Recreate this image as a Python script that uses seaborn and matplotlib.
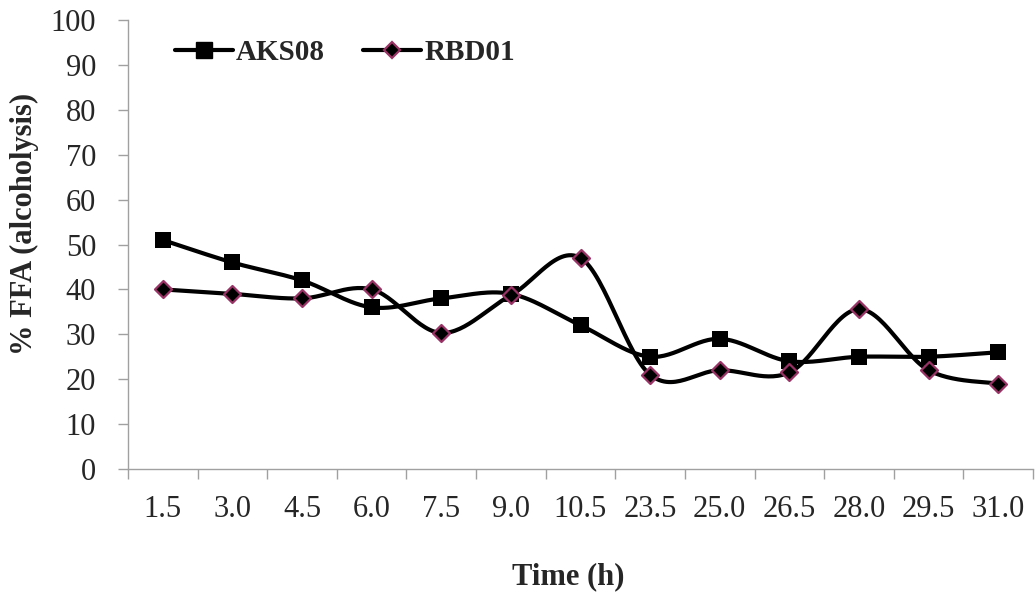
import numpy as np
import pandas as pd
import matplotlib
matplotlib.use("Agg")
import matplotlib.pyplot as plt
from matplotlib.lines import Line2D
import seaborn as sns

categories = ["1.5", "3.0", "4.5", "6.0", "7.5", "9.0", "10.5", "23.5", "25.0", "26.5", "28.0", "29.5", "31.0"]
aks08 = [51, 46, 42, 36, 38, 39, 32, 25, 29, 24, 25, 25, 26]
rbd01 = [40, 39, 38, 40, 30.3, 38.7, 47, 21, 22, 21.5, 35.6, 22, 19]
series_names = ["AKS08", "RBD01"]
y_ticks = list(range(0, 101, 10))


def smooth(xs, ys, n=30):
    xs = np.asarray(xs, float)
    ys = np.asarray(ys, float)
    P = np.column_stack([xs, ys])
    out = []
    for i in range(len(P) - 1):
        p0 = P[i - 1] if i > 0 else P[i]
        p1 = P[i]
        p2 = P[i + 1]
        p3 = P[i + 2] if i + 2 < len(P) else P[i + 1]
        c1 = p1 + (p2 - p0) / 6.0
        c2 = p2 - (p3 - p1) / 6.0
        t = np.linspace(0, 1, n, endpoint=(i == len(P) - 2))[:, None]
        b = ((1 - t) ** 3) * p1 + 3 * ((1 - t) ** 2) * t * c1 + 3 * (1 - t) * t ** 2 * c2 + t ** 3 * p2
        out.append(b)
    out = np.vstack(out)
    return out[:, 0], out[:, 1]


sns.set_theme(style="white")
plt.rcParams["font.family"] = ["Liberation Serif", "DejaVu Serif"]

fig = plt.figure(figsize=(10.35, 5.93), dpi=100)
ax = fig.add_axes([128 / 1035, 1 - 469 / 593, 905 / 1035, 449 / 593])

pos = np.arange(len(categories))
frames = []
for name, vals in zip(series_names, [aks08, rbd01]):
    sx, sy = smooth(pos, vals)
    frames.append(pd.DataFrame({"x": sx, "y": sy, "series": name}))
curve = pd.concat(frames, ignore_index=True)
pts = pd.concat([pd.DataFrame({"x": pos, "y": aks08, "series": "AKS08"}),
                 pd.DataFrame({"x": pos, "y": rbd01, "series": "RBD01"})], ignore_index=True)

sns.lineplot(data=curve, x="x", y="y", hue="series", palette={"AKS08": "black", "RBD01": "black"},
             linewidth=3, sort=False, estimator=None, legend=False, ax=ax)
sns.scatterplot(data=pts[pts.series == "AKS08"], x="x", y="y", marker="s", s=120, color="black",
                edgecolor="black", linewidth=0, legend=False, ax=ax, zorder=5)
sns.scatterplot(data=pts[pts.series == "RBD01"], x="x", y="y", marker="D", s=75, color="black",
                edgecolor="#993366", linewidth=1.6, legend=False, ax=ax, zorder=5)

ax.set_xlim(-0.5, len(categories) - 0.5)
ax.set_ylim(0, 100)
ax.set_yticks(y_ticks)
ax.set_yticklabels([str(v) for v in y_ticks], fontsize=22)
ax.set_xticks(np.arange(-0.5, len(categories), 1.0))
ax.set_xticklabels([])
ax.set_xticks(pos, minor=True)
ax.set_xticklabels(categories, minor=True, fontsize=22)
ax.tick_params(axis="x", which="minor", length=0, pad=19)
ax.tick_params(axis="x", which="major", direction="out", length=7, width=1, color="#a0a0a0", bottom=True)
ax.tick_params(axis="y", direction="out", length=7, width=1, color="#a0a0a0", left=True, pad=16)

for s in ["top", "right"]:
    ax.spines[s].set_visible(False)
for s in ["left", "bottom"]:
    ax.spines[s].set_color("#a0a0a0")
    ax.spines[s].set_linewidth(1)

ax.set_xlabel("Time (h)", fontsize=22, fontweight="bold")
ax.set_ylabel("% FFA (alcoholysis)", fontsize=22, fontweight="bold")
ax.xaxis.set_label_coords((568 - 128) / 905, (469 - 562) / 449)
ax.yaxis.set_label_coords((39 - 128) / 905, (469 - 224) / 449)

handles = [Line2D([], [], color="black", lw=3, marker="s", markersize=11, markerfacecolor="black", markeredgecolor="black"),
           Line2D([], [], color="black", lw=3, marker="D", markersize=8, markerfacecolor="black", markeredgecolor="#993366", markeredgewidth=1.6)]
ax.legend(handles, series_names, loc="center left", bbox_to_anchor=(175 / 1035, 1 - 53 / 593),
          bbox_transform=fig.transFigure, ncol=2, frameon=False, borderpad=0, borderaxespad=0,
          handlelength=2.0, handletextpad=0.1, columnspacing=1.3,
          prop={"family": ["Liberation Serif"], "weight": "bold", "size": 21})

fig.savefig("out.png", dpi=100)
